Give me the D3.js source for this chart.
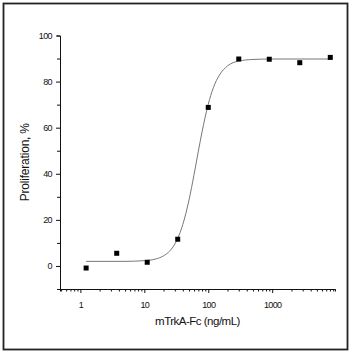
<!DOCTYPE html>
<html>
<head>
  <meta charset="utf-8">
  <style>
    html, body { margin: 0; overflow: hidden; background: #fff; }
    svg { display: block; }
    text { font-family: "Liberation Sans", Arial, sans-serif; fill: #111; }
    .tick text { font-size: 9px; letter-spacing: -0.6px; }
    .axis path, .axis line { stroke: #111; stroke-width: 1px; }
  </style>
  <script src="https://cdn.jsdelivr.net/npm/d3@7"></script>
</head>
<body>
  <svg id="svg" width="351" height="356"></svg>
  <script>
    // measured points (ng/mL, %)
    var doses = [1.23, 3.7, 11.1, 33.3, 100, 300, 900, 2700, 8100];
    var prolif = [-0.9, 5.5, 1.6, 11.6, 68.8, 89.8, 89.7, 88.2, 90.5];

    // fitted curve
    var fitX = [1.23, 5, 10, 15, 20, 25, 30, 35, 40, 50, 60, 70, 80, 100, 120, 150, 200, 300, 500, 1000, 8100];
    var fitY = [2.0, 2.0, 2.3, 3.0, 4.4, 6.5, 9.5, 13.4, 18.0, 28.6, 39.7, 49.8, 58.2, 70.2, 77.3, 82.9, 86.8, 88.9, 89.6, 89.8, 89.8];

    var yMajor = [0, 20, 40, 60, 80, 100];
    var yMinor = [10, 30, 50, 70, 90];
    var xMajor = [1, 10, 100, 1000];

    var svg = d3.select("#svg");

    svg.append("rect")
      .attr("x", 3.5).attr("y", 3.5)
      .attr("width", 344).attr("height", 346)
      .attr("fill", "none")
      .attr("stroke", "#222")
      .attr("stroke-width", 1.8);

    var x = d3.scaleLog().domain([0.48, 9600]).range([60, 335]);
    var y = d3.scaleLinear().domain([-10, 100]).range([289, 35.5]);

    // minor x ticks 2..9 in each decade
    var xMinor = [];
    [0.1, 1, 10, 100, 1000].forEach(function(d){
      for (var k = 2; k <= 9; k++) {
        var v = d * k;
        if (v >= x.domain()[0] && v <= x.domain()[1]) xMinor.push(v);
      }
    });

    svg.append("g")
      .attr("class", "axis")
      .attr("transform", "translate(0," + y(-10) + ")")
      .call(d3.axisBottom(x).tickValues(xMinor).tickSize(2.5).tickFormat(""));

    svg.append("g")
      .attr("class", "axis")
      .attr("transform", "translate(0," + y(-10) + ")")
      .call(d3.axisBottom(x).tickValues(xMajor).tickSize(4).tickSizeOuter(0).tickPadding(9)
        .tickFormat(d3.format("d")));

    svg.append("g")
      .attr("class", "axis")
      .attr("transform", "translate(" + x.range()[0] + ",0)")
      .call(d3.axisLeft(y).tickValues(yMinor).tickSize(3).tickFormat(""));

    svg.append("g")
      .attr("class", "axis")
      .attr("transform", "translate(" + x.range()[0] + ",0)")
      .call(d3.axisLeft(y).tickValues(yMajor).tickSize(4).tickSizeOuter(0).tickPadding(4));

    var fit = fitX.map(function(d, i){ return [d, fitY[i]]; });
    svg.append("path")
      .datum(fit)
      .attr("fill", "none")
      .attr("stroke", "#777")
      .attr("stroke-width", 1)
      .attr("d", d3.line()
        .x(function(d){ return x(d[0]); })
        .y(function(d){ return y(d[1]); })
        .curve(d3.curveMonotoneX));

    var pts = doses.map(function(d, i){ return [d, prolif[i]]; });
    svg.append("g").selectAll("rect")
      .data(pts).enter().append("rect")
      .attr("x", function(d){ return x(d[0]) - 2.5; })
      .attr("y", function(d){ return y(d[1]) - 2.5; })
      .attr("width", 5).attr("height", 5)
      .attr("fill", "#000");

    svg.append("text")
      .attr("x", (x.range()[0] + x.range()[1]) / 2)
      .attr("y", 325)
      .attr("text-anchor", "middle")
      .style("font-size", "11.5px")
      .style("letter-spacing", "-0.5px")
      .text("mTrkA-Fc (ng/mL)");

    svg.append("text")
      .attr("transform", "translate(29," + y(45) + ") rotate(-90)")
      .attr("text-anchor", "middle")
      .style("font-size", "12px")
      .style("letter-spacing", "-0.2px")
      .text("Proliferation, %");
  </script>
</body>
</html>
